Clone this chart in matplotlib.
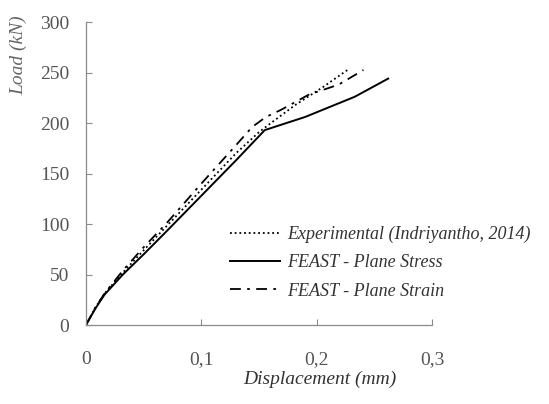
import matplotlib
matplotlib.use('Agg')
import matplotlib.pyplot as plt

# Load-displacement data
exp_x = [0, 0.008, 0.016, 0.032, 0.05, 0.07, 0.10, 0.13, 0.15, 0.1615, 0.1816, 0.206, 0.2285]
exp_y = [0, 17, 31, 52, 74, 98, 134, 170, 191, 201, 218, 236, 254]

stress_x = [0, 0.008, 0.016, 0.032, 0.05, 0.07, 0.10, 0.13, 0.155, 0.19, 0.233, 0.262]
stress_y = [0, 16, 30, 50, 70, 93, 128, 163, 193, 206, 226, 244]

strain_x = [0, 0.008, 0.016, 0.032, 0.05, 0.07, 0.10, 0.13, 0.144, 0.156, 0.169, 0.193, 0.219, 0.2405]
strain_y = [0, 17, 31, 54, 77, 101, 140, 178, 196, 206, 213, 228, 238, 252.5]

xticks = [0, 0.1, 0.2, 0.3]
xtick_labels = ['0', '0,1', '0,2', '0,3']
yticks = [0, 50, 100, 150, 200, 250, 300]

plt.rcParams['font.family'] = ['Liberation Serif', 'DejaVu Serif']

fig = plt.figure(figsize=(5.49, 4.04), dpi=100)
ax = fig.add_axes([0.1566, 0.1955, 0.6304, 0.75])

ax.plot(exp_x, exp_y, color='black', linestyle=(0, (1, 1.6)), linewidth=1.3,
        label='Experimental (Indriyantho, 2014)')
ax.plot(stress_x, stress_y, color='black', linestyle='-', linewidth=1.4,
        label='FEAST - Plane Stress')
ax.plot(strain_x, strain_y, color='black', linestyle=(0, (6, 3.5, 1.5, 3.5)), linewidth=1.3,
        label='FEAST - Plane Strain')

ax.set_xlim(0, 0.3)
ax.set_ylim(0, 300)
ax.set_xticks(xticks)
ax.set_xticklabels(xtick_labels)
ax.set_yticks(yticks)

for side in ['top', 'right']:
    ax.spines[side].set_visible(False)
for side in ['left', 'bottom']:
    ax.spines[side].set_color('#8a8a8a')
    ax.spines[side].set_linewidth(0.9)

ax.tick_params(direction='in', length=4, width=0.8, color='#8a8a8a',
               labelsize=14, labelcolor='#555555')
ax.tick_params(axis='y', pad=12)
ax.tick_params(axis='x', pad=19)

ax.set_xlabel('Displacement (mm)', style='italic', fontsize=14, color='#333333')
ax.set_ylabel('Load (kN)', style='italic', fontsize=14, color='#666666')
ax.xaxis.set_label_coords(0.676, -0.15)
ax.yaxis.set_label_coords(-0.17, 0.89)

leg = ax.legend(loc='upper left', bbox_to_anchor=(0.415, 0.327), frameon=False,
                prop={'style': 'italic', 'size': 13}, handlelength=2.8,
                handletextpad=0.4, labelspacing=0.62, borderpad=0, borderaxespad=0)
for t in leg.get_texts():
    t.set_color('#333333')

plt.savefig('out.png', dpi=100)
